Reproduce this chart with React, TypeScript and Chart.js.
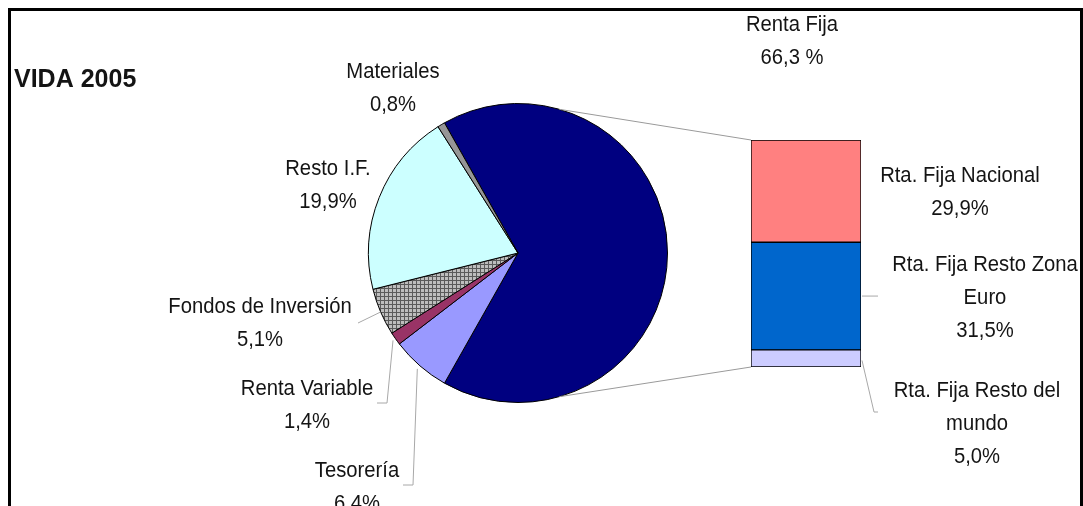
import React, { useEffect, useRef } from 'react';
import { Chart, registerables } from 'chart.js';

Chart.register(...registerables);

// ---- data ----
const chartTitle = 'VIDA 2005';
const pieLabels = ['Renta Fija', 'Tesorería', 'Renta Variable', 'Fondos de Inversión', 'Resto I.F.', 'Materiales'];
const pieValues = [66.3, 6.4, 1.4, 5.1, 19.9, 0.8];
const barLabels = [['Rta. Fija Resto del', 'mundo'], ['Rta. Fija Resto Zona', 'Euro'], ['Rta. Fija Nacional']];
const barValues = [5.0, 31.5, 29.9];

// ---- styles / layout ----
const pieColors = ['#000080', '#9999FF', '#993366', 'PATTERN', '#CCFFFF', '#969696'];
const barColors = ['#CCCCFF', '#0066CC', '#FF8080'];
const pieLabelPos = [
  [792, 31],
  [357, 477],
  [307, 395],
  [260, 313],
  [328, 175],
  [393, 78],
];
const barLabelPos = [
  [977, 397],
  [985, 271],
  [960, 182],
];
const LINE_H = 33;
const FONT = '"Liberation Sans", Arial, sans-serif';

function fmt(v: number, spaced: boolean) {
  return v.toFixed(1).replace('.', ',') + (spaced ? ' %' : '%');
}

function drawText(ctx: CanvasRenderingContext2D, text: string, x: number, y: number, size: number, bold: boolean, sx: number, align: CanvasTextAlign) {
  ctx.save();
  ctx.font = `${bold ? 'bold ' : ''}${size}px ${FONT}`;
  ctx.fillStyle = '#141414';
  ctx.textAlign = align;
  ctx.textBaseline = 'alphabetic';
  ctx.translate(x, y);
  ctx.scale(sx, 1);
  ctx.fillText(text, 0, 0);
  ctx.restore();
}

function polyline(ctx: CanvasRenderingContext2D, pts: number[][], color: string) {
  ctx.save();
  ctx.strokeStyle = color;
  ctx.lineWidth = 1;
  ctx.beginPath();
  pts.forEach((p, i) => (i === 0 ? ctx.moveTo(p[0], p[1]) : ctx.lineTo(p[0], p[1])));
  ctx.stroke();
  ctx.restore();
}

export default function App() {
  const pieRef = useRef<HTMLCanvasElement | null>(null);
  const barRef = useRef<HTMLCanvasElement | null>(null);

  useEffect(() => {
    if (!pieRef.current || !barRef.current) return;

    // hatch pattern for "Fondos de Inversión"
    const pc = document.createElement('canvas');
    pc.width = 4;
    pc.height = 4;
    const pctx = pc.getContext('2d')!;
    pctx.fillStyle = '#bdbdbd';
    pctx.fillRect(0, 0, 4, 4);
    pctx.fillStyle = '#5a5a5a';
    pctx.fillRect(0, 0, 4, 1);
    pctx.fillRect(0, 0, 1, 4);
    const pattern = pieRef.current.getContext('2d')!.createPattern(pc, 'repeat');

    const pieTotal = pieValues.reduce((a, b) => a + b, 0);
    const rotation = 90 - (pieValues[0] / pieTotal) * 180;

    const pie = new Chart(pieRef.current, {
      type: 'pie',
      data: {
        labels: pieLabels,
        datasets: [
          {
            data: pieValues,
            backgroundColor: pieColors.map((c) => (c === 'PATTERN' ? pattern : c)) as any,
            borderColor: '#000000',
            borderWidth: 1,
          },
        ],
      },
      options: {
        responsive: false,
        animation: false,
        rotation,
        layout: { padding: { left: 368, right: 415, top: 103, bottom: 103 } },
        plugins: { legend: { display: false }, tooltip: { enabled: false } },
      },
    });

    const barTotal = barValues.reduce((a, b) => a + b, 0);

    const overlay = {
      id: 'overlay',
      afterDraw(chart: any) {
        const ctx: CanvasRenderingContext2D = chart.ctx;
        // title
        drawText(ctx, chartTitle, 14, 87, 25, true, 1, 'left');

        const arcs: any[] = pie.getDatasetMeta(0).data as any[];
        const a0 = arcs[0];
        const cx = a0.x, cy = a0.y, r = a0.outerRadius;
        const ptAt = (ang: number, rr: number) => [cx + Math.cos(ang) * rr, cy + Math.sin(ang) * rr];
        const mid = (a: any) => (a.startAngle + a.endAngle) / 2;

        // connector lines pie -> bar
        const bars: any[] = barValues.map((_, i) => chart.getDatasetMeta(i).data[0]);
        const topBar = bars[bars.length - 1];
        const botBar = bars[0];
        const barLeft = topBar.x - topBar.width / 2;
        const barRight = topBar.x + topBar.width / 2;
        const tilt = (16 * Math.PI) / 180;
        polyline(ctx, [ptAt(-Math.PI / 2 + tilt, r), [barLeft, topBar.y]], '#9a9a9a');
        polyline(ctx, [ptAt(Math.PI / 2 - tilt, r), [barLeft, botBar.base]], '#9a9a9a');

        // pie leader lines
        polyline(ctx, [[403, 485], [413, 485], ptAt(mid(arcs[1]), r + 4)], '#a8a8a8');
        polyline(ctx, [[377, 403], [387, 403], ptAt(mid(arcs[2]), r + 3)], '#a8a8a8');
        polyline(ctx, [[358, 323], ptAt(mid(arcs[3]), r)], '#a8a8a8');

        // bar leader lines
        const euro = bars[1];
        const euroMid = (euro.y + euro.base) / 2;
        polyline(ctx, [[barRight + 1, euroMid], [barRight + 17, euroMid]], '#a8a8a8');
        const world = bars[0];
        const worldMid = (world.y + world.base) / 2;
        polyline(ctx, [[barRight + 1, worldMid + 2], [barRight + 13, 412], [barRight + 17, 412]], '#a8a8a8');

        // pie labels
        pieLabels.forEach((lab, i) => {
          const [x, y] = pieLabelPos[i];
          drawText(ctx, lab, x, y, 22, false, 0.92, 'center');
          drawText(ctx, fmt(pieValues[i], i === 0), x, y + LINE_H, 22, false, 0.92, 'center');
        });
        // bar labels
        barLabels.forEach((lines, i) => {
          const [x, y] = barLabelPos[i];
          lines.forEach((ln, k) => drawText(ctx, ln, x, y + k * LINE_H, 22, false, 0.92, 'center'));
          drawText(ctx, fmt(barValues[i], false), x, y + lines.length * LINE_H, 22, false, 0.92, 'center');
        });
      },
    };

    const bar = new Chart(barRef.current, {
      type: 'bar',
      data: {
        labels: [''],
        datasets: barValues.map((v, i) => ({
          label: barLabels[i].join(' '),
          data: [v],
          backgroundColor: barColors[i],
          borderColor: '#000000',
          borderWidth: 1,
          borderSkipped: false,
          barPercentage: 1,
          categoryPercentage: 1,
        })),
      },
      options: {
        responsive: false,
        animation: false,
        layout: { padding: { left: 751, right: 222, top: 140, bottom: 139 } },
        scales: {
          x: { display: false, stacked: true },
          y: { display: false, stacked: true, min: 0, max: barTotal },
        },
        plugins: { legend: { display: false }, tooltip: { enabled: false } },
      },
      plugins: [overlay],
    });

    return () => {
      bar.destroy();
      pie.destroy();
    };
  }, []);

  return (
    <div style={{ position: 'fixed', left: 0, top: 0, width: 1083, height: 506, overflow: 'hidden', background: '#ffffff' }}>
      <div
        style={{
          position: 'absolute',
          left: 8,
          top: 8,
          width: 1075,
          height: 620,
          border: '3px solid #000',
          boxSizing: 'border-box',
        }}
      />
      <canvas ref={pieRef} width={1083} height={506} style={{ position: 'absolute', left: 0, top: 0 }} />
      <canvas ref={barRef} width={1083} height={506} style={{ position: 'absolute', left: 0, top: 0 }} />
    </div>
  );
}
